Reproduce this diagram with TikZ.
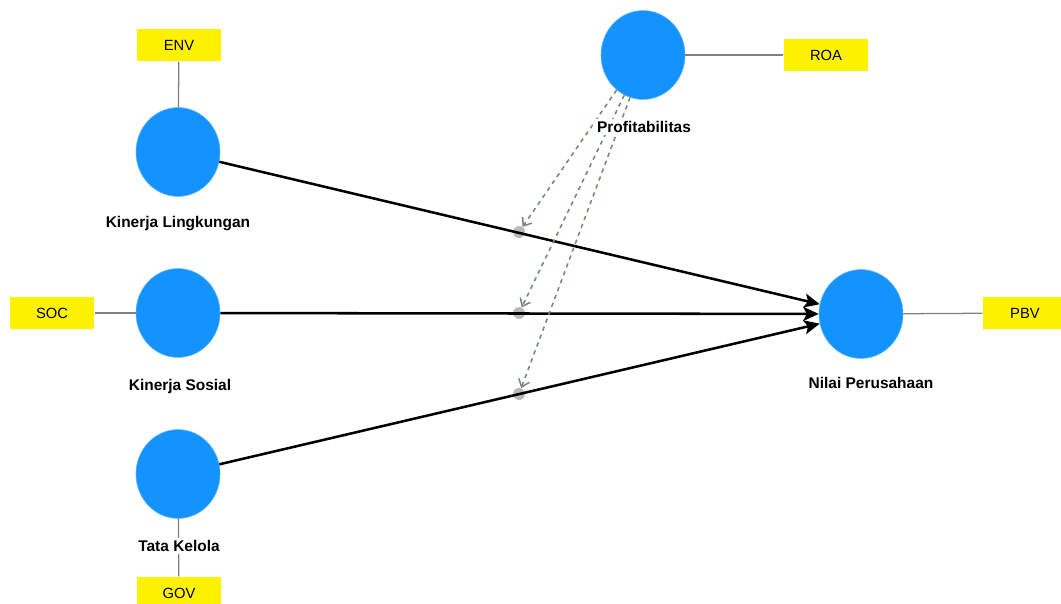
\documentclass[tikz,border=0pt]{standalone}
\usepackage{fontspec}
\setmainfont{Liberation Sans}
\usetikzlibrary{arrows,arrows.meta,shapes.geometric}
\definecolor{lvblue}{RGB}{20,147,255}
\definecolor{modgreen}{RGB}{112,140,112}

\begin{document}
\begin{tikzpicture}[x=0.025cm,y=-0.025cm,
  latent/.style={ellipse,fill=lvblue,draw=lvblue!70,minimum width=2.1cm,minimum height=2.22cm,inner sep=0pt},
  indicator/.style={rectangle,fill=yellow,minimum width=2.12cm,minimum height=0.82cm,font=\fontsize{10.5}{12}\selectfont},
  lvname/.style={fill=white,inner sep=1.5pt,font=\fontsize{11}{13}\selectfont\bfseries},
  moddot/.style={circle,fill=gray!55,minimum size=0.3cm,inner sep=0pt},
  loading/.style={color=gray,line width=0.9pt},
  effect/.style={-{Stealth[length=11pt,width=10pt,inset=2.5pt]},color=black,line width=1.8pt},
  moderate/.style={-{Straight Barb[length=5pt,width=8pt]},dashed,color=modgreen,line width=1.1pt}]

  \useasboundingbox (0,0) rectangle (1061,604);

  \node[latent] (kl) at (178,152) {};
  \node[latent] (ks) at (178,313) {};
  \node[latent] (tk) at (178,474) {};
  \node[latent] (prof) at (643,55) {};
  \node[latent] (np) at (861,314) {};

  \node[indicator] (env) at (179,45) {ENV};
  \node[indicator] (soc) at (52,313) {SOC};
  \node[indicator] (gov) at (179,593) {GOV};
  \node[indicator] (roa) at (826,55) {ROA};
  \node[indicator] (pbv) at (1025,313) {PBV};

  \node[moddot] (m1) at (519,232) {};
  \node[moddot] (m2) at (519,313) {};
  \node[moddot] (m3) at (519,394) {};

  % outer model
  \path[loading]
    (kl) edge (env)
    (ks) edge (soc)
    (tk) edge (gov)
    (prof) edge (roa)
    (np) edge (pbv);

  % inner model
  \path[effect]
    (kl) edge (np)
    (ks) edge (np)
    (tk) edge (np);

  % moderating effects
  \path[moderate]
    (prof.-127) edge (m1)
    (prof.-115) edge (m2)
    (prof.-107) edge (m3);

  \node[lvname] (kl-name) at (178,224) {Kinerja Lingkungan};
  \node[lvname] (ks-name) at (180,386) {Kinerja Sosial};
  \node[lvname] (tk-name) at (179,546) {Tata Kelola};
  \node[lvname] (prof-name) at (644,127) {Profitabilitas};
  \node[lvname] (np-name) at (871,383) {Nilai Perusahaan};

\end{tikzpicture}
\end{document}
